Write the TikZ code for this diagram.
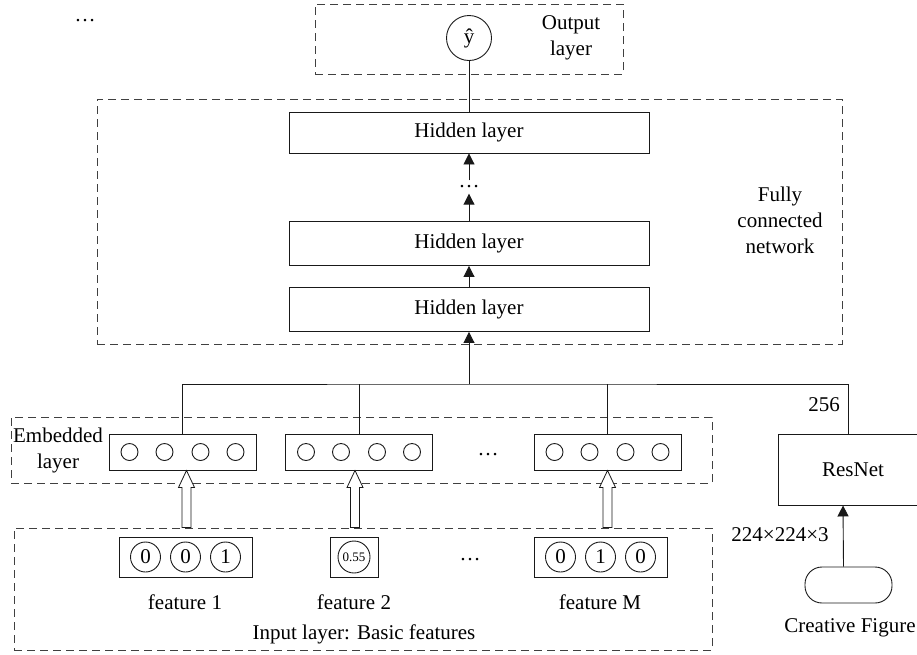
\documentclass[tikz,border=0pt]{standalone}
\usepackage{fontspec}
\setmainfont{Liberation Serif}
\usetikzlibrary{arrows.meta,calc}

\begin{document}
\begin{tikzpicture}[
      x=1pt, y=-1pt,
      font=\fontsize{21}{26}\selectfont,
      line width=0.9pt, draw=black!90,
      groupbox/.style={draw=black!75, dash pattern=on 8pt off 5pt, line width=1pt, inner sep=0pt},
      layerbox/.style={draw, minimum width=360, minimum height=44, inner sep=0pt},
      embbox/.style={draw, minimum width=147, minimum height=36, inner sep=0pt},
      featbox/.style={draw, minimum height=40, inner sep=0pt},
      unit/.style={draw, circle, minimum size=17, inner sep=0pt},
      bit/.style={draw, circle, minimum size=30, inner sep=0pt},
      arr/.style={-{Triangle[length=11pt,width=11pt]}},
      txt/.style={align=center, inner sep=1pt}
    ]
      \useasboundingbox (0,0) rectangle (917,654);
      \clip (0,0) rectangle (917,654);

      % dashed groups
      \node[groupbox, minimum width=308, minimum height=70] (outgrp) at (469,39) {};
      \node[groupbox, minimum width=745, minimum height=245] (fcgrp) at (469.5,221.5) {};
      \node[groupbox, minimum width=701, minimum height=66] (embgrp) at (361.5,450) {};
      \node[groupbox, minimum width=698, minimum height=122] (ingrp) at (363,589) {};

      \node at (85,21) {\ldots};

      % Output layer
      \node[draw, circle, minimum size=45, inner sep=0pt] (yhat) at (469,38) {ŷ};
      \node[txt] at (571,38) {Output\\layer};

      % Fully connected network
      \node[layerbox, minimum height=41] (h3) at (469,132.5) {Hidden layer};
      \node[inner sep=5pt] (hdots) at (469,187) {\ldots};
      \node[layerbox] (h2) at (469,243.5) {Hidden layer};
      \node[layerbox] (h1) at (469,309.5) {Hidden layer};
      \node[txt] at (780,220) {Fully\\connected\\network};

      \draw (yhat) -- (h3);
      \draw[arr] (hdots) -- (h3);
      \draw[arr] (h2) -- (hdots);
      \draw[arr] (h1) -- (h2);

      % Embedded layer
      \node[txt] at (58,450) {Embedded\\layer};
      \node[embbox] (e1) at (182.5,452) {};
      \node[embbox] (e2) at (359,452) {};
      \node[embbox] (e3) at (607.5,452) {};
      \node at (488,455) {\ldots};
      \foreach \e in {e1,e2,e3}
        \foreach \dx in {-53,-18,18,53}
          \node[unit] at ($(\e)+(\dx,0)$) {};

      % ResNet branch (box runs past the right edge)
      \node[draw, minimum width=150, minimum height=71, inner sep=0pt] (rn) at (853,469.5) {ResNet};
      \node[draw, rounded corners=17, minimum width=87, minimum height=36] (fig) at (848.5,585) {};
      \node at (850,628) {Creative Figure};
      \node at (780,535) {224×224×3};
      \node at (824,405) {256};
      \draw[arr] ([xshift=-5]fig.north) -- ([xshift=-10]rn.south);

      % concatenation bus
      \coordinate (bus) at (469,384);
      \draw[arr] (bus) -- (h1);
      \draw (e1.north) |- (bus) -| ([xshift=-5]rn.north);
      \draw (e2.north) -- (e2.north |- bus);
      \draw (e3.north) -- (e3.north |- bus);

      % Input layer
      \node[featbox, minimum width=133] (f1) at (185.5,557) {};
      \node[bit] at ($(f1)+(-40,0)$) {0};
      \node[bit] at ($(f1)+(0,0)$) {0};
      \node[bit] at ($(f1)+(40,0)$) {1};
      \node[featbox, minimum width=48] (f2) at (354,557) {};
      \node[bit, minimum size=32, font=\fontsize{13}{13}\selectfont] at (f2) {0.55};
      \node at (470,560) {\ldots};
      \node[featbox, minimum width=133] (fM) at (600.5,557) {};
      \node[bit] at ($(fM)+(-40,0)$) {0};
      \node[bit] at ($(fM)+(0,0)$) {1};
      \node[bit] at ($(fM)+(40,0)$) {0};

      \node at (185,602) {feature 1};
      \node at (354,602) {feature 2};
      \node at (600,602) {feature M};
      \node at (364,634) {Input layer: Basic features};

      % hollow arrows into the embeddings
      \foreach \e/\dx in {e1/4,e2/-4,e3/0}
        \draw[fill=white, line width=0.8pt]
          let \p1=([xshift=\dx]\e.south), \p2=(ingrp.north) in
          (\x1,\y1) -- (\x1+8pt,\y1-17pt) -- (\x1+4.5pt,\y1-17pt) -- (\x1+4.5pt,\y2)
          -- (\x1-4.5pt,\y2) -- (\x1-4.5pt,\y1-17pt) -- (\x1-8pt,\y1-17pt) -- cycle;
    \end{tikzpicture}
\end{document}
